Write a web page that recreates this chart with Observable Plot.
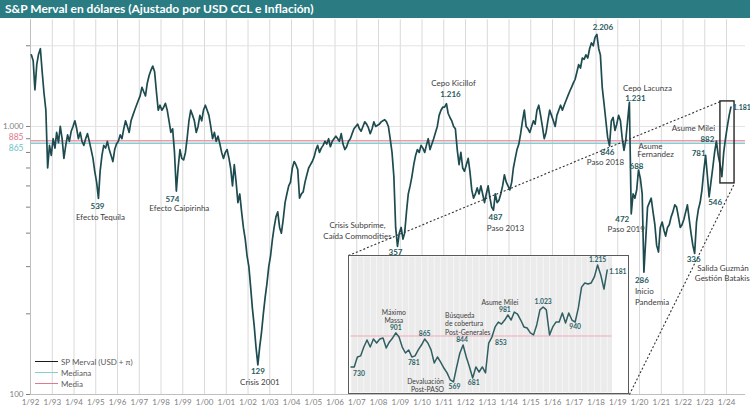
<!DOCTYPE html>
<html><head><meta charset="utf-8">
<script src="https://cdn.jsdelivr.net/npm/d3@7"></script>
<script src="https://cdn.jsdelivr.net/npm/@observablehq/plot@0.6"></script>
<style>
html,body{margin:0;padding:0;background:#fff;}
#wrap{position:relative;width:750px;height:412px;overflow:hidden;font-family:Lato,"Open Sans",sans-serif;}
#title{position:absolute;left:0;top:0;width:750px;height:18px;background:#2b7b82;color:#fff;font-weight:700;font-size:12px;line-height:18px;padding-left:5px;box-sizing:border-box;white-space:nowrap;}
#chart{position:absolute;left:0;top:18px;}
#inset{position:absolute;background:#fff;border:1.5px solid #5a5a5a;box-sizing:border-box;}
#inset svg{position:absolute;left:0;top:0;}
#legend{position:absolute;left:35px;top:356px;font-size:8px;color:#595959;}
.lg{display:flex;align-items:center;height:11px;white-space:nowrap;}
.lg span{display:inline-block;width:23px;height:0;border-top:1px solid;margin-right:3px;}
</style></head>
<body><div id="wrap"><div id="title"></div><div id="chart"></div><div id="inset"></div><div id="legend"></div></div>
<script>
// ---------- DATA ----------
const titleText = "S&P Merval en dólares (Ajustado por USD CCL e Inflación)";
const startYear = 1992; // monthly values starting January 1992
const merval1990s = [
  1850,1760,1370,1700,1860,1950,1600,1330,1150,700,850,780,
  900,830,950,870,1000,900,760,850,930,880,960,1000,
  1050,980,900,950,880,850,900,940,880,820,760,680,
  620,539,680,780,850,830,880,820,780,740,820,860,
  880,930,900,980,1050,1000,950,1050,1100,1150,1200,1250,
  1300,1400,1350,1300,1450,1550,1620,1680,1600,1350,1150,1200,
  1150,1180,1220,1150,1050,950,980,800,574,700,820,760,
  750,800,900,1050,1150,1100,1050,950,1000,1100,1050,1150
];
const merval2000s = [
  1200,1150,1100,1000,900,950,880,920,860,800,760,800,
  820,760,700,600,720,620,520,560,480,420,380,330,
  300,250,210,180,150,129,150,170,200,230,260,300,
  330,380,420,460,480,420,400,450,520,560,600,620,
  700,740,720,690,540,560,570,620,660,700,720,740,
  770,820,850,800,830,850,880,860,900,840,880,900,
  920,900,880,940,860,820,840,880,900,940,980,1000,
  1020,980,960,1000,1040,1020,990,940,980,1040,1000,1010,
  1020,1040,1050,1060,1040,1000,900,800,650,420,357,400,
  420,380,400,480,560,600,650,720,780,820,800,850
];
const merval2010s = [
  830,800,850,900,820,860,900,950,1000,1100,1150,1180,
  1180,1216,1120,1080,1050,1000,980,820,720,800,700,680,
  720,760,680,580,540,560,590,560,600,560,520,560,
  600,540,500,487,560,520,530,560,600,660,620,600,
  580,620,700,760,820,860,940,1050,1150,1000,980,950,
  1000,1050,1020,1150,1200,1100,1000,900,950,1050,1150,1100,
  1050,1000,1100,1150,1200,1150,1200,1250,1300,1350,1400,1450,
  1500,1600,1700,1650,1800,1780,1850,1800,1950,2050,2000,2150,
  2206,1950,1850,1400,1220,1050,910,846,1050,1080,966,1020,
  1100,1050,910,814,887,1050,1231,472,560,540,580,688
];
const merval2020s = [
  640,560,286,380,500,520,540,480,430,360,340,420,
  440,410,390,420,430,460,480,510,500,460,420,430,
  450,480,510,450,400,360,336,440,490,520,580,680,
  781,650,546,620,700,800,882,780,720,650,800,900,
  1000,1100,1181
];
const mediaValue = 885;
const medianaValue = 865;
const yTickValues = [100,200,300,400,500,600,700,800,900,1000,2000];
const yTickLabels = {100:"100", 1000:"1.000"};

// annotations on the main chart: [date, value, text]
const annotations = [
  ["1995-02-15",539,"539"],["1995-02-15",539,"Efecto Tequila"],
  ["1998-09-15",574,"574"],["1998-09-15",574,"Efecto Caipirinha"],
  ["2002-06-15",129,"129"],["2002-06-15",129,"Crisis 2001"],
  ["2008-11-15",357,"357"],["2008-11-15",357,"Crisis Subprime,"],["2008-11-15",357,"Caída Commodities"],
  ["2011-02-15",1216,"1.216"],["2011-02-15",1216,"Cepo Kicillof"],
  ["2013-04-15",487,"487"],["2013-04-15",487,"Paso 2013"],
  ["2018-01-15",2206,"2.206"],
  ["2018-08-15",846,"846"],["2018-08-15",846,"Paso 2018"],
  ["2019-07-15",1231,"1.231"],["2019-07-15",1231,"Cepo Lacunza"],
  ["2019-08-15",472,"472"],["2019-08-15",472,"Paso 2019"],
  ["2019-12-15",688,"688"],["2019-12-15",688,"Asume"],["2019-12-15",688,"Fernandez"],
  ["2020-03-15",286,"286"],["2020-03-15",286,"Inicio"],["2020-03-15",286,"Pandemia"],
  ["2022-07-15",336,"336"],["2022-07-15",336,"Salida Guzmán"],["2022-07-15",336,"Gestión Batakis"],
  ["2023-01-15",781,"781"],["2023-03-15",546,"546"],
  ["2023-07-15",882,"882"],["2023-07-15",882,"Asume Milei"],
  ["2024-03-15",1181,"1.181"]
];

// zoom box (main chart data coords) and inset placement
const boxRange = {from:"2023-09-21", to:"2024-05-15", low:613, high:1240};
const insetRange = {from:"2006-08-15", to:"2019-07-16", low:100, high:330};

// inset (Sep 2023 - Apr 2024) series
const insetValues = [
  714,714,769,775,824,863,824,868,846,868,874,819,852,874,902,879,824,791,808,769,
  775,808,835,868,846,808,736,769,741,708,681,642,631,714,791,835,769,714,653,714,
  686,714,681,846,879,935,962,951,973,1001,973,1017,1006,973,935,929,902,891,946,1029,
  1045,1029,891,935,962,962,1012,957,1012,973,962,1040,1155,1178,1172,1178,1211,1277,1222,1144,
  1249
];
const insetAnnotations = [
  [0,"730"],[14,"Máximo"],[14,"Massa"],[14,"901"],[19,"781"],[23,"865"],
  [32,"569"],[32,"Devaluación"],[32,"Post-PASO"],[35,"844"],
  [35,"Búsqueda"],[35,"de cobertura"],[35,"Post-Generales"],
  [38,"681"],[44,"853"],[49,"Asume Milei"],[49,"981"],[60,"1.023"],
  [70,"940"],[77,"1.215"],[80,"1.181"]
];
const legendItems = ["SP Merval (USD + π)","Mediana","Media"];

// ---------- LAYOUT / STYLE ----------
const annotationLayout = [
  [-1,8,"middle"],[2,19,"middle"],
  [-4,8,"middle"],[3,17,"middle"],
  [0,7,"middle"],[2,18,"middle"],
  [-2,6,"middle"],[-40,-21,"middle"],[-40,-10,"middle"],
  [4,-9,"middle"],[7,-20,"middle"],
  [2,7,"middle"],[12,18,"middle"],
  [6,-7,"middle"],
  [-2,7,"middle"],[-4,17,"middle"],
  [6,-4,"middle"],[18,-14,"middle"],
  [-9,6,"middle"],[-5,16,"middle"],
  [-2,-4,"middle"],[12,-24,"middle"],[17,-15.5,"middle"],
  [-2,8,"middle"],[-9,19,"start"],[-9,30,"start"],
  [-1,6,"middle"],[54,15,"end"],[55,25,"end"],
  [-7,-2,"middle"],[6,6,"middle"],
  [-9,-2,"middle"],[-23,-13,"middle"],
  [2,1,"start"]
];
const insetLayout = [
  [8,7,"middle"],[-2,-20,"middle"],[-2,-12,"middle"],[0,-5,"middle"],[2,6,"middle"],[0,-5,"middle"],
  [1,5,"middle"],[-28,0,"middle"],[-26,8,"middle"],[-1,-5,"middle"],
  [-18,-29,"start"],[-18,-21,"start"],[-18,-12,"start"],
  [1,5,"middle"],[9,6,"middle"],[-8,-12,"middle"],[-3,-5,"middle"],[0,-5,"middle"],
  [0,5,"middle"],[0,-5,"middle"],[2,2,"start"]
];
const colSeries = "#1e4b4f", colMedia = "#f09aac", colMediana = "#86cfd1";
const colNum = "#1f5a5e", colText = "#404040";
const legendColors = ["#1a1a1a", colMediana, "#e07a8c"];

// ---------- BUILD ----------
document.getElementById("title").textContent = titleText;
const mervalValues = [...merval1990s, ...merval2000s, ...merval2010s, ...merval2020s];
const series = mervalValues.map((v,i)=>({date:new Date(Date.UTC(startYear,i,15)), value:v}));
const parse = d3.utcParse("%Y-%m-%d");
const xStart = new Date(Date.UTC(1992,0,1)), xEnd = new Date(Date.UTC(2024,10,15));
const yearTicks = d3.utcYear.range(xStart, new Date(Date.UTC(2024,1,1)));
const isNum = t => /^[\d.]+$/.test(t);

const annoMarks = annotations.map((a,i)=>{
  const [dx,dy,anchor] = annotationLayout[i];
  const num = isNum(a[2]);
  return Plot.text([{date:parse(a[0]), value:a[1], text:a[2]}], {
    x:"date", y:"value", text:"text", dx, dy, textAnchor:anchor,
    fill: num ? colNum : colText, fontWeight: num ? 700 : 400,
    fontSize: a[2] === "1.181" ? 7 : 8
  });
});

const box = {x1:parse(boxRange.from), x2:parse(boxRange.to), y1:boxRange.low, y2:boxRange.high};
const ins = {x1:parse(insetRange.from), x2:parse(insetRange.to), y1:insetRange.low, y2:insetRange.high};

const chart = Plot.plot({
  width:750, height:394, marginLeft:30, marginRight:5, marginTop:1.3, marginBottom:18,
  style:{fontFamily:"Lato, sans-serif", fontSize:"8px", color:"#808080", background:"none", overflow:"visible"},
  x:{type:"utc", domain:[xStart,xEnd], ticks:yearTicks, tickFormat:d=>"1/"+String(d.getUTCFullYear()).slice(2), tickSize:0, tickPadding:5, label:null},
  y:{type:"log", domain:[100,2500], ticks:yTickValues, tickFormat:d=>yTickLabels[d]||"", tickSize:4, tickPadding:3, label:null},
  marks:[
    Plot.ruleX(yearTicks, {stroke:"#d9d9d9", strokeWidth:1}),
    Plot.ruleY([1000,2000], {stroke:"#e3e3e3", strokeWidth:1}),
    Plot.ruleX([xStart], {stroke:"#bfbfbf"}),
    Plot.ruleY([100], {stroke:"#bfbfbf"}),
    Plot.ruleY([mediaValue], {stroke:colMedia, strokeWidth:1.5}),
    Plot.ruleY([medianaValue], {stroke:colMediana, strokeWidth:1.5}),
    Plot.text([mediaValue], {x:()=>xStart, y:d=>d, text:d=>String(d), dx:-7, dy:-3, textAnchor:"end", fill:"#e0788e", fontSize:8.5}),
    Plot.text([medianaValue], {x:()=>xStart, y:d=>d, text:d=>String(d), dx:-7, dy:5, textAnchor:"end", fill:"#6cc3c6", fontSize:8.5}),
    Plot.line(series, {x:"date", y:"value", stroke:colSeries, strokeWidth:1.7}),
    Plot.rect([ins], {x1:"x1", x2:"x2", y1:"y1", y2:"y2", fill:"white"}),
    Plot.link([{x1:ins.x1, y1:ins.y2, x2:box.x1, y2:box.y2},{x1:ins.x2, y1:ins.y1, x2:box.x2, y2:box.y1}],
      {x1:"x1", y1:"y1", x2:"x2", y2:"y2", stroke:"#333", strokeWidth:1.1, strokeDasharray:"2,2"}),
    Plot.rect([box], {x1:"x1", x2:"x2", y1:"y1", y2:"y2", fill:"none", stroke:"#262626", strokeWidth:1.4}),
    ...annoMarks
  ]
});
document.getElementById("chart").appendChild(chart);

// ---------- INSET ----------
const xs = chart.scale("x"), ys = chart.scale("y");
const insLeft = xs.apply(ins.x1), insRight = xs.apply(ins.x2);
const insTop = 18 + ys.apply(ins.y2), insBottom = 18 + ys.apply(ins.y1);
const W = insRight-insLeft, H = insBottom-insTop;
const insetDiv = document.getElementById("inset");
Object.assign(insetDiv.style, {left:insLeft+"px", top:insTop+"px", width:W+"px", height:H+"px"});
const insetData = insetValues.map((v,i)=>({i, v}));
const insetTextMarks = insetAnnotations.map((a,k)=>{
  const [dx,dy,anchor] = insetLayout[k];
  const num = isNum(a[1]);
  return Plot.text([{i:a[0], v:insetValues[a[0]], t:a[1]}], {
    x:"i", y:"v", text:"t", dx, dy, textAnchor:anchor,
    fill: num ? "#2d6468" : colText, fontWeight: num ? 700 : 400, fontSize:6.8
  });
});
const innerW = W - 3, innerH = H - 3;
const insetPlot = Plot.plot({
  width:innerW, height:innerH, marginLeft:1.5, marginRight:innerW-262.5, marginTop:0, marginBottom:0,
  style:{fontFamily:"Lato, sans-serif", background:"none", overflow:"visible"},
  x:{domain:[0,81.5], axis:null},
  y:{domain:[573,1324], axis:null},
  marks:[
    Plot.frame({fill:"#ebebeb"}),
    Plot.ruleX(d3.range(0,82,2), {stroke:"#f6f6f6", strokeWidth:1}),
    Plot.ruleY([mediaValue], {stroke:"#f3aab8", strokeWidth:1}),
    Plot.line(insetData, {x:"i", y:"v", stroke:"#2f5f62", strokeWidth:1.5}),
    ...insetTextMarks
  ]
});
insetDiv.appendChild(insetPlot);

// ---------- LEGEND ----------
const lg = document.getElementById("legend");
legendItems.forEach((t,i)=>{
  const row = document.createElement("div"); row.className = "lg";
  const sw = document.createElement("span"); sw.style.borderTopColor = legendColors[i];
  row.appendChild(sw); row.appendChild(document.createTextNode(t));
  lg.appendChild(row);
});
</script></body></html>
